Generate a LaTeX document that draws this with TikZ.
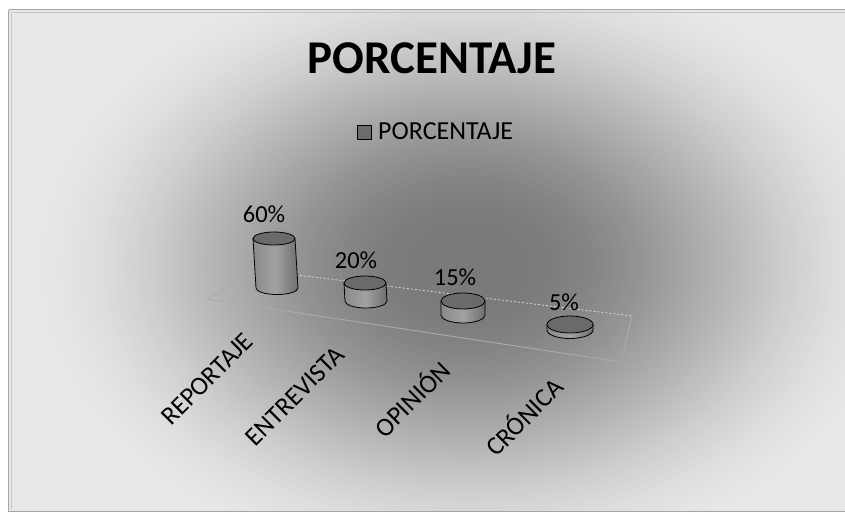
\documentclass[tikz,border=0pt]{standalone}
\usepackage{fontspec}
\setmainfont{Carlito}
\definecolor{bgin}{HTML}{7A7A7A}
\definecolor{bgout}{HTML}{E8E8E8}
\definecolor{topc}{HTML}{6A6A6A}
\definecolor{sidel}{HTML}{8A8A8A}
\definecolor{sidem}{HTML}{A2A2A2}
\definecolor{sider}{HTML}{6E6E6E}
\definecolor{floorc}{HTML}{ABABAB}
\newcommand{\mycyl}[6]{%
  % #1 tx, #2 ty, #3 bx, #4 by, #5 rx, #6 ry
  \shade[left color=sidel, right color=sider, middle color=sidem, draw=black, line width=0.8pt]
    (#1-#5,#2) -- (#3-#5,#4) arc (180:0:#5 and #6) -- (#1+#5,#2) -- cycle;
  \draw[fill=topc, draw=black, line width=0.8pt] (#1,#2) ellipse [x radius=#5, y radius=#6];
}
\tikzset{
  lbl/.style={font=\fontsize{24.5}{28}\selectfont, inner sep=0pt, text=black},
  cat/.style={font=\fontsize{26}{30}\selectfont, inner sep=0pt, rotate=45, text=black},
}
\begin{document}
\begin{tikzpicture}[x=1pt,y=-1pt]
\useasboundingbox (0,0) rectangle (845,514);
\fill[white] (0,0) rectangle (845,514);
\begin{scope}
  \clip (9,10) rectangle (845,511);
  \fill[bgout] (9,10) rectangle (845,511);
  \foreach \i in {0,...,80}{
    \pgfmathsetmacro\rr{1-0.9*\i/80}
    \pgfmathsetmacro\tt{\i/80}
    \pgfmathsetmacro\pp{100*(3*\tt*\tt-2*\tt*\tt*\tt)}
    \fill[bgin!\pp!bgout] (468,265) ellipse [x radius=450*\rr, y radius=320*\rr];
  }
\end{scope}
\draw[gray!70, line width=1.2pt] (8.5,9.5) -- (850,9.5);
\draw[gray!70, line width=1.2pt] (8.5,9.5) -- (8.5,511.5) -- (850,511.5);
\draw[gray!45, line width=0.8pt] (11.5,12.5) -- (850,12.5);
\draw[gray!45, line width=0.8pt] (11.5,12.5) -- (11.5,509);

% title
\node[font=\fontsize{47}{56}\selectfont\bfseries, inner sep=0pt] (title) at (432,58) {PORCENTAJE};
% legend
\node[draw=black, fill=gray!85!black, minimum width=14pt, minimum height=14pt, inner sep=0pt, line width=0.8pt] (legbox) at (364.5,132) {};
\node[font=\fontsize{26}{30}\selectfont, inner sep=0pt, anchor=west] (legtext) at (378,131) {PORCENTAJE};

% floor
\coordinate (fl) at (207,299);
\coordinate (bl) at (256,270);
\coordinate (br) at (632,316);
\coordinate (fr) at (621,362);
\draw[floorc, line width=0.9pt] (bl) -- (fl) -- (fr) -- (br);
\draw[gray!25, line width=0.7pt, dash pattern=on 2pt off 2pt] (bl) -- (br);

% cylinders
\mycyl{274}{238.5}{277}{288}{21}{6.5}
\mycyl{365}{283}{366}{301}{21}{7}
\mycyl{463}{301}{463}{315}{22}{8}
\mycyl{570}{324.5}{570}{330}{23}{8.5}

% data labels
\node[lbl] (l1) at (264,214) {60\%};
\node[lbl] (l2) at (356,260) {20\%};
\node[lbl] (l3) at (455,277) {15\%};
\node[lbl] (l4) at (564,302) {5\%};

% category labels
\node[cat] (c1) at (207,379) {REPORTAJE};
\node[cat] (c2) at (295,396) {ENTREVISTA};
\node[cat] (c3) at (411,398) {OPINIÓN};
\node[cat] (c4) at (523,416) {CRÓNICA};
\end{tikzpicture}
\end{document}
